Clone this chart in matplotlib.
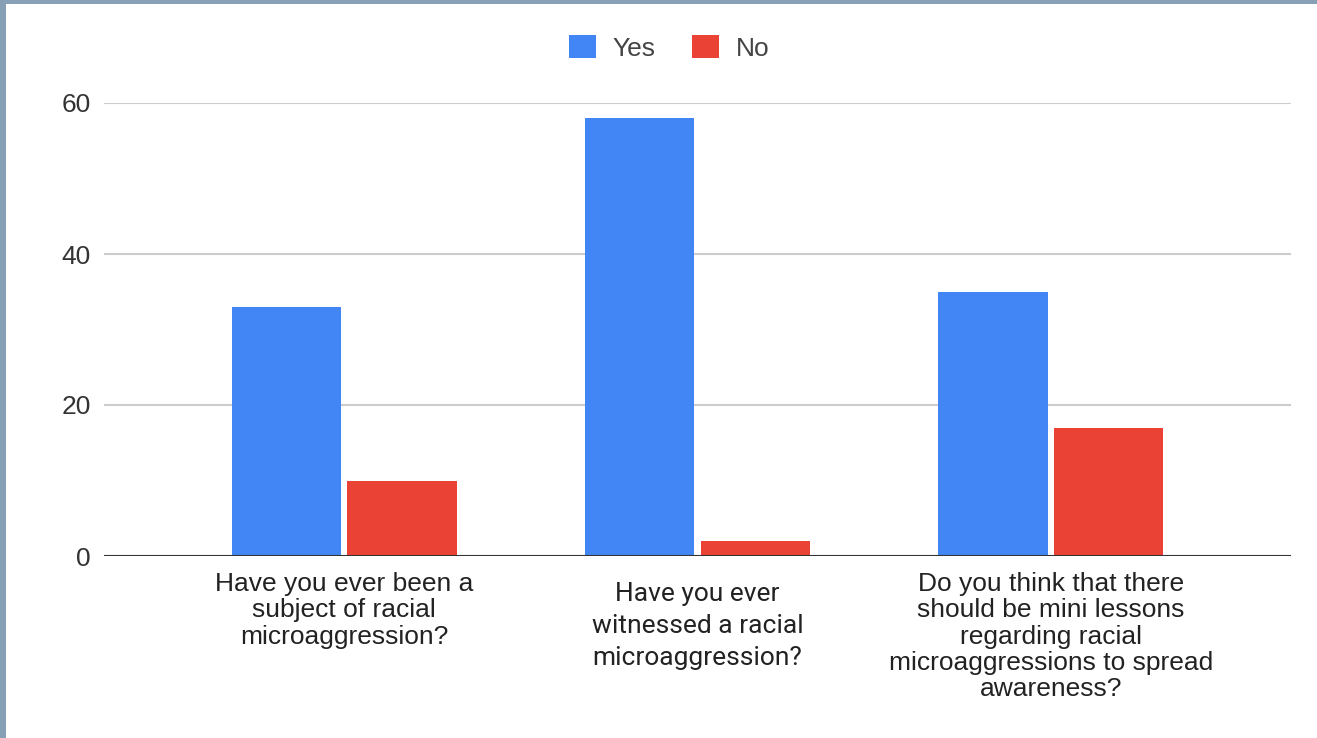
import matplotlib
matplotlib.use("Agg")
import matplotlib.pyplot as plt
import matplotlib.transforms as mtransforms
from matplotlib.patches import Patch, Rectangle
import numpy as np

# Survey results
questions = [
    "Have you ever been a\nsubject of racial\nmicroaggression?",
    "Have you ever\nwitnessed a racial\nmicroaggression?",
    "Do you think that there\nshould be mini lessons\nregarding racial\nmicroaggressions to spread\nawareness?",
]
yes_counts = [33, 58, 35]
no_counts = [10, 2, 17]
series_names = ["Yes", "No"]
y_ticks = [0, 20, 40, 60]

BLUE = "#4285f4"
RED = "#ea4335"
FRAME = "#87a0b5"

W, H, DPI = 1317, 738, 100
fig = plt.figure(figsize=(W / DPI, H / DPI), dpi=DPI, facecolor="white")

# thin slate frame along the left and top edges
fig.patches.append(Rectangle((0, 0), 6 / W, 1, transform=fig.transFigure,
                             facecolor=FRAME, edgecolor="none", zorder=0))
fig.patches.append(Rectangle((0, 1 - 4 / H), 1, 4 / H, transform=fig.transFigure,
                             facecolor=FRAME, edgecolor="none", zorder=0))

left, right = 104 / W, 1291 / W
bottom, top = (H - 556) / H, (H - 103) / H
ax = fig.add_axes([left, bottom, right - left, top - bottom])

x = np.arange(len(questions))
bw = 0.31
gap = 0.017
ax.bar(x - bw / 2 - gap / 2, yes_counts, width=bw, color=BLUE, zorder=2)
ax.bar(x + bw / 2 + gap / 2, no_counts, width=bw, color=RED, zorder=2)

ax.set_xlim(-0.68, len(questions) - 1 + 0.68)
ax.set_ylim(0, 60)

for s in ax.spines.values():
    s.set_visible(False)

ax.set_yticks(y_ticks)
ax.set_yticklabels([str(v) for v in y_ticks], fontsize=19,
                   family="Liberation Sans", color="#333333")
ax.tick_params(axis="y", length=0, pad=9.4)
ax.set_xticks([])
for v in y_ticks[1:]:
    ax.axhline(v, color="#cccccc", lw=1.5, zorder=1)
ax.axhline(0, color="#333333", lw=1.5, zorder=3)

# category labels beneath each group
trans = ax.get_xaxis_transform()
label_style = [
    dict(family="Liberation Sans", linespacing=1.12, off=11.5),
    dict(family="Roboto", linespacing=1.41, off=19),
    dict(family="Liberation Sans", linespacing=1.12, off=11.5),
]
for xi, q, st in zip(x, questions, label_style):
    t = mtransforms.offset_copy(trans, fig=fig, x=0, y=-st["off"], units="points")
    ax.text(xi, 0, q, transform=t, ha="center", va="top", fontsize=19,
            family=st["family"], linespacing=st["linespacing"],
            color="#222222", multialignment="center")

handles = [Patch(facecolor=BLUE, edgecolor="none"),
           Patch(facecolor=RED, edgecolor="none")]
fig.legend(handles, series_names, loc="center", bbox_to_anchor=(669 / W, 1 - 48 / H),
           ncol=2, frameon=False, prop={"family": "Liberation Sans", "size": 19},
           handlelength=1.02, handleheight=0.95, handletextpad=0.64,
           columnspacing=1.36, labelcolor="#444444")

fig.savefig("out.png", dpi=DPI, facecolor="white")
